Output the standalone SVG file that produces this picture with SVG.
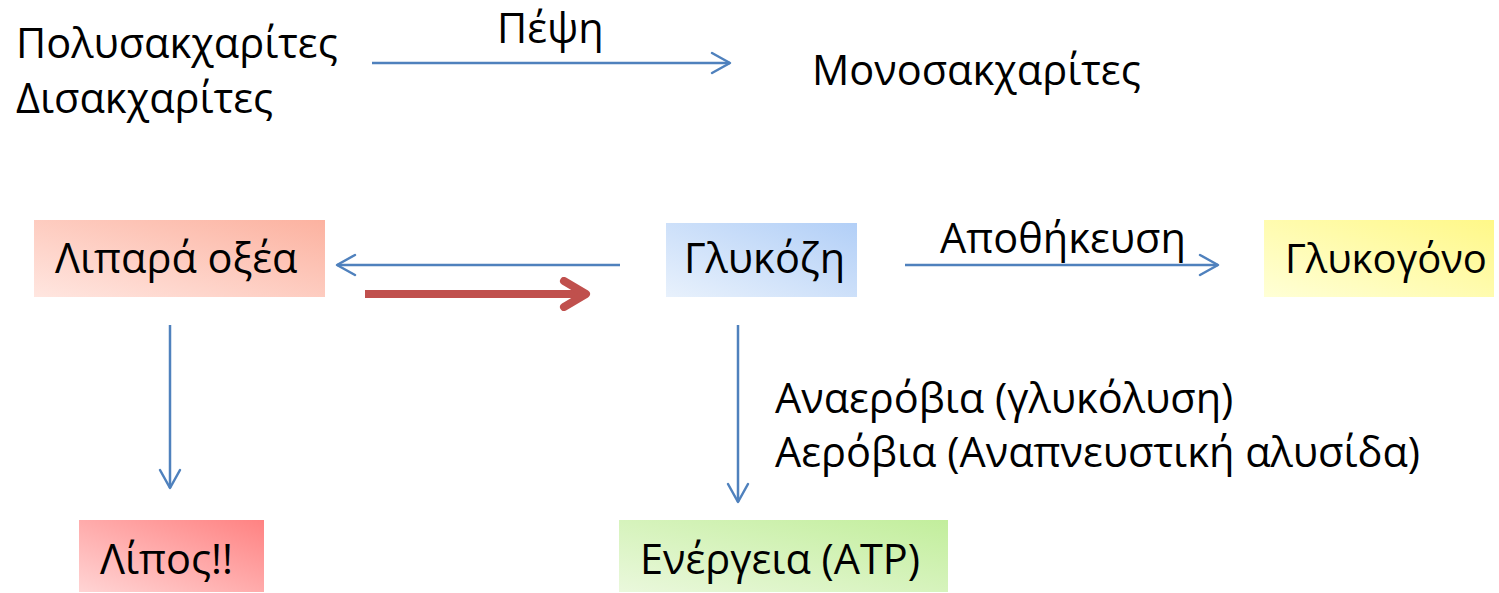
<svg xmlns="http://www.w3.org/2000/svg" width="1499" height="593" viewBox="0 0 1499 593">
<style>
text{font-family:"Open Sans","Noto Sans",sans-serif;font-size:41.5px;fill:#000}
.ln{stroke:#4F81BD;stroke-width:2.5;fill:none}
</style>
<defs>
<marker id="ah" markerUnits="userSpaceOnUse" markerWidth="24" markerHeight="24" refX="20" refY="12" orient="auto" viewBox="0 0 24 24"><path d="M2,2 L20,12 L2,22" fill="none" stroke="#4F81BD" stroke-width="2.5" stroke-linecap="round" stroke-linejoin="round"/></marker>
<marker id="ahr" markerUnits="userSpaceOnUse" markerWidth="34" markerHeight="34" refX="28" refY="17" orient="auto" viewBox="0 0 34 34"><path d="M6,4 L28,17 L6,30" fill="none" stroke="#C0504D" stroke-width="8" stroke-linecap="round" stroke-linejoin="round"/></marker>
<linearGradient id="gr" x1="0" y1="1" x2="1" y2="0"><stop offset="0" stop-color="#FFE6E0"/><stop offset="1" stop-color="#FCB2A0"/></linearGradient>
<linearGradient id="gb" x1="0" y1="1" x2="1" y2="0"><stop offset="0" stop-color="#E8F1FC"/><stop offset="1" stop-color="#B2CFF7"/></linearGradient>
<linearGradient id="gy" x1="0" y1="1" x2="1" y2="0"><stop offset="0" stop-color="#FFFFD6"/><stop offset="1" stop-color="#FFF888"/></linearGradient>
<linearGradient id="gp" x1="0" y1="1" x2="1" y2="0"><stop offset="0" stop-color="#FFD4D4"/><stop offset="1" stop-color="#FF8282"/></linearGradient>
<linearGradient id="gg" x1="0" y1="1" x2="1" y2="0"><stop offset="0" stop-color="#EAF8DC"/><stop offset="1" stop-color="#C2EE9C"/></linearGradient>
</defs>
<rect width="1499" height="593" fill="#fff"/>
<g id="poly"><text x="16" y="58">Πολυσακχαρίτες</text><text x="16" y="113">Δισακχαρίτες</text></g>
<g id="mono"><text x="812" y="85">Μονοσακχαρίτες</text></g>
<g id="lipara"><rect x="34" y="220" width="291" height="77" fill="url(#gr)"/><text x="55" y="273">Λιπαρά οξέα</text></g>
<g id="glukozi"><rect x="666" y="223" width="191" height="74" fill="url(#gb)"/><text x="684" y="273">Γλυκόζη</text></g>
<g id="glukogono"><rect x="1264" y="220" width="230" height="77" fill="url(#gy)"/><text x="1285" y="273" style="font-size:40px">Γλυκογόνο</text></g>
<g id="lipos"><rect x="79" y="520" width="185" height="72" fill="url(#gp)"/><text x="100" y="574">Λίπος!!</text></g>
<g id="energeia"><rect x="619" y="520" width="329" height="72" fill="url(#gg)"/><text x="640" y="574">Ενέργεια (ATP)</text></g>
<g id="connectors">
<line class="ln" x1="372" y1="63" x2="730" y2="63" marker-end="url(#ah)"/>
<text x="497" y="43">Πέψη</text>
<line class="ln" x1="620" y1="265" x2="337" y2="265" marker-end="url(#ah)"/>
<line x1="365" y1="294" x2="586" y2="294" stroke="#C0504D" stroke-width="8" marker-end="url(#ahr)"/>
<line class="ln" x1="905" y1="265" x2="1218" y2="265" marker-end="url(#ah)"/>
<text x="940" y="253">Αποθήκευση</text>
<line class="ln" x1="170" y1="325" x2="170" y2="488" marker-end="url(#ah)"/>
<line class="ln" x1="738" y1="325" x2="738" y2="502" marker-end="url(#ah)"/>
<text x="775" y="413">Αναερόβια (γλυκόλυση)</text>
<text x="775" y="467">Αερόβια (Αναπνευστική αλυσίδα)</text>
</g>
</svg>
